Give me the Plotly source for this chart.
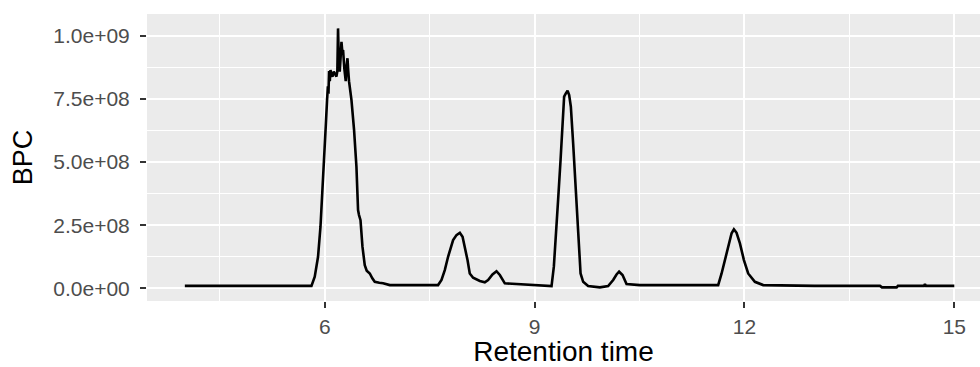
import plotly.graph_objects as go

# Retention time (min) and base peak chromatogram intensity
rt = [4.000, 4.600, 5.200, 5.810, 5.857, 5.904, 5.939, 5.967, 5.990, 6.014,
      6.033, 6.045, 6.053, 6.062, 6.072, 6.082, 6.096, 6.110, 6.129, 6.148,
      6.167, 6.180, 6.190, 6.202, 6.214, 6.228, 6.239, 6.250, 6.262, 6.280,
      6.300, 6.312, 6.325, 6.336, 6.347, 6.382, 6.419, 6.453, 6.476, 6.490,
      6.511, 6.539, 6.572, 6.600, 6.644, 6.680, 6.715, 6.780, 6.834, 6.930,
      7.215, 7.620, 7.669, 7.716, 7.763, 7.798, 7.835, 7.883, 7.931, 7.970,
      8.001, 8.041, 8.073, 8.121, 8.217, 8.288, 8.335, 8.398, 8.455, 8.503,
      8.574, 8.741, 8.979, 9.242, 9.275, 9.303, 9.336, 9.371, 9.399, 9.422,
      9.446, 9.471, 9.494, 9.518, 9.551, 9.589, 9.622, 9.657, 9.694, 9.765,
      9.933, 10.051, 10.123, 10.171, 10.208, 10.257, 10.314, 10.504, 11.000, 11.624,
      11.673, 11.720, 11.767, 11.816, 11.849, 11.887, 11.935, 11.992, 12.053, 12.149,
      12.268, 13.000, 13.937, 13.966, 14.175, 14.194, 14.566, 14.580, 14.594, 15.000]

bpc = [1.0e7, 1.0e7, 1.0e7, 1.0e7, 4.6e7, 1.25e8, 2.44e8, 4.16e8, 5.08e8, 6.40e8,
       7.45e8, 8.0e8, 7.7e8, 8.6e8, 8.2e8, 8.64e8, 8.45e8, 8.38e8, 8.58e8, 8.45e8,
       8.38e8, 8.6e8, 1.029e9, 8.9e8, 8.58e8, 9.2e8, 9.76e8, 9.4e8, 9.43e8, 8.7e8,
       8.20e8, 8.8e8, 9.11e8, 8.6e8, 8.20e8, 7.45e8, 6.27e8, 4.81e8, 3.10e8, 2.9e8,
       2.70e8, 1.65e8, 9.2e7, 7.0e7, 5.9e7, 4.0e7, 2.6e7, 2.2e7, 2.0e7, 1.3e7,
       1.3e7, 1.3e7, 3.3e7, 7.2e7, 1.25e8, 1.58e8, 1.91e8, 2.11e8, 2.20e8, 2.04e8,
       1.65e8, 1.12e8, 5.9e7, 4.2e7, 2.9e7, 2.4e7, 3.3e7, 5.5e7, 6.8e7, 5.3e7,
       2.0e7, 1.7e7, 1.3e7, 0.9e7, 8.6e7, 1.91e8, 3.50e8, 5.08e8, 6.40e8, 7.59e8,
       7.72e8, 7.82e8, 7.65e8, 7.19e8, 5.74e8, 3.76e8, 2.04e8, 5.9e7, 2.6e7, 0.9e7,
       0.4e7, 0.9e7, 3.3e7, 5.5e7, 6.6e7, 5.3e7, 1.7e7, 1.3e7, 1.3e7, 1.3e7,
       5.9e7, 1.12e8, 1.71e8, 2.18e8, 2.34e8, 2.20e8, 1.78e8, 1.12e8, 5.9e7, 2.6e7,
       1.3e7, 1.0e7, 1.0e7, 0.4e7, 0.4e7, 1.0e7, 1.0e7, 1.7e7, 1.0e7, 1.0e7]

x_ticks = [6, 9, 12, 15]
x_tick_labels = ["6", "9", "12", "15"]
x_minor = [4.5, 7.5, 10.5, 13.5]

y_ticks = [0, 2.5e8, 5.0e8, 7.5e8, 1.0e9]
y_tick_labels = ["0.0e+00", "2.5e+08", "5.0e+08", "7.5e+08", "1.0e+09"]
y_minor = [1.25e8, 3.75e8, 6.25e8, 8.75e8]

FONT = "Arial, Liberation Sans, sans-serif"

fig = go.Figure()
fig.add_trace(go.Scatter(x=rt, y=bpc, mode="lines",
                         line=dict(color="black", width=2.6),
                         showlegend=False, hoverinfo="skip"))

axis_common = dict(
    showline=False, zeroline=False, automargin=False,
    showgrid=True, gridcolor="white", gridwidth=2,
    ticks="outside", ticklen=6, tickwidth=2, tickcolor="#333333",
    tickfont=dict(family=FONT, size=21, color="#4D4D4D"),
    tickmode="array",
)

fig.update_xaxes(
    **axis_common,
    range=[3.459, 15.367],
    tickvals=x_ticks, ticktext=x_tick_labels,
    minor=dict(tickmode="array", tickvals=x_minor, showgrid=True,
               gridcolor="white", gridwidth=1, ticks=""),
    ticklabelstandoff=1,
    title=dict(text="Retention time", font=dict(family=FONT, size=28, color="black"),
               standoff=7),
)
fig.update_yaxes(
    **axis_common,
    range=[-0.050e9, 1.086e9],
    tickvals=y_ticks, ticktext=y_tick_labels,
    minor=dict(tickmode="array", tickvals=y_minor, showgrid=True,
               gridcolor="white", gridwidth=1, ticks=""),
    ticklabelstandoff=6,
    title=dict(text="BPC", font=dict(family=FONT, size=27, color="black"),
               standoff=12),
)

fig.update_layout(
    width=980, height=367,
    margin=dict(l=147, r=0, t=14, b=66, pad=0),
    plot_bgcolor="#EBEBEB", paper_bgcolor="white",
)

fig.write_html("out.html", config={"displayModeBar": False},
               post_script="document.body.style.margin='0';document.body.style.overflow='hidden';")
